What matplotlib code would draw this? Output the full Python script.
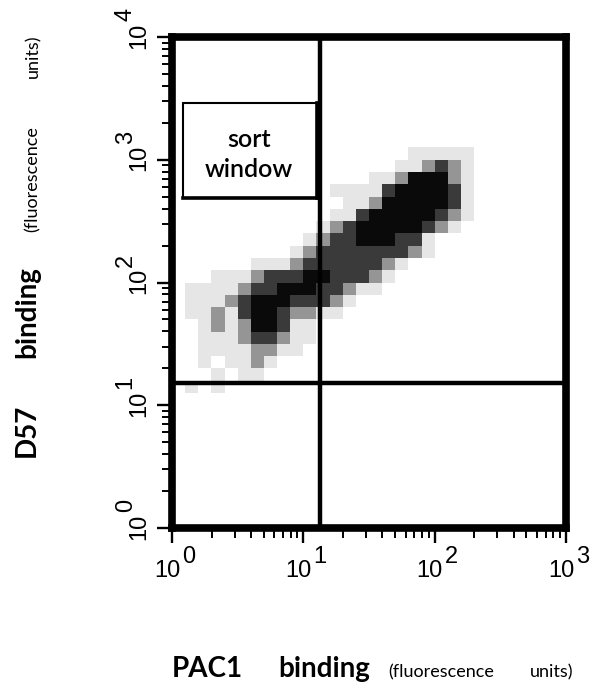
import numpy as np
import matplotlib
matplotlib.use("Agg")
import matplotlib.pyplot as plt
from matplotlib.colors import ListedColormap
from matplotlib.patches import Rectangle
from matplotlib.markers import TICKDOWN, TICKLEFT

# density of events per 0.1-decade cell
# columns: log10(PAC1) 0.0 .. 2.3, rows: log10(D57) 3.1 (top) .. 1.1 (bottom)
density_rows = [
    "000000000000000000000000",
    "000000000000000000111110",
    "000000000000000001123210",
    "000000000000000112444210",
    "000000000000111134444310",
    "000000000000011244444310",
    "000000000000113444443210",
    "000000000001234444432100",
    "000000000012334443310000",
    "000000000123333333210000",
    "000000111233333321000000",
    "000111233344333210000000",
    "011112334443321100000000",
    "011123444333210000000000",
    "011213443221100000000000",
    "001212443110000000000000",
    "001112332110000000000000",
    "001111221100000000000000",
    "001011210000000000000000",
    "000101100000000000000000",
    "010100000000000000000000",
]
x_log_edges = [i / 10 for i in range(25)]          # 0.0 .. 2.4
y_log_edges = [1.1 + i / 10 for i in range(22)]    # 1.1 .. 3.2

pac1_gate = 13.5
d57_gate = 15.2
sort_window = (1.21, 12.6, 490, 2900)   # x0, x1, y0, y1

decades_x = [0, 1, 2, 3]
decades_y = [0, 1, 2, 3, 4]

dens = np.array([[int(c) for c in r] for r in density_rows])[::-1]
xe = 10 ** np.array(x_log_edges)
ye = 10 ** np.array(y_log_edges)

W, H = 592, 683
fig = plt.figure(figsize=(W / 100, H / 100), dpi=100)
ax = fig.add_axes([172 / W, 1 - 528 / H, (566 - 172) / W, (528 - 37) / H])

cmap = ListedColormap(["white", "#e6e6e6", "#959595", "#3a3a3a", "#0a0a0a"])
ax.pcolormesh(xe, ye, dens, cmap=cmap, vmin=-0.5, vmax=4.5, zorder=1)

ax.set_xscale("log")
ax.set_yscale("log")
ax.set_xlim(1, 1000)
ax.set_ylim(1, 10000)
ax.set_xticks([])
ax.set_yticks([])
ax.minorticks_off()

for s in ax.spines.values():
    s.set_linewidth(5.5)
    s.set_color("black")

# log tick marks along the bottom and left edges
major_x = [10 ** d for d in decades_x]
major_y = [10 ** d for d in decades_y]
minor_x = [m * 10 ** d for d in decades_x[:-1] for m in range(2, 10)]
minor_y = [m * 10 ** d for d in decades_y[:-1] for m in range(2, 10)]
bx = ax.get_xaxis_transform()
by = ax.get_yaxis_transform()
ax.plot(major_x, [0] * len(major_x), transform=bx, ls="none", marker=TICKDOWN,
        ms=10.5, mew=1.7, color="black", clip_on=False, zorder=6)
ax.plot(minor_x, [0] * len(minor_x), transform=bx, ls="none", marker=TICKDOWN,
        ms=7, mew=1.4, color="black", clip_on=False, zorder=6)
ax.plot([0] * len(major_y), major_y, transform=by, ls="none", marker=TICKLEFT,
        ms=10.5, mew=1.7, color="black", clip_on=False, zorder=6)
ax.plot([0] * len(minor_y), minor_y, transform=by, ls="none", marker=TICKLEFT,
        ms=7, mew=1.4, color="black", clip_on=False, zorder=6)

# quadrant gates
ax.axvline(pac1_gate, color="black", lw=3.2, zorder=3)
ax.axhline(d57_gate, color="black", lw=3.2, zorder=3)

# sort window box
x0, x1, y0, y1 = sort_window
ax.add_patch(Rectangle((x0, y0), x1 - x0, y1 - y0, facecolor="white",
                       edgecolor="black", lw=1.5, zorder=4))
ax.plot([x1, x1], [y0, y1], color="black", lw=2.6, zorder=5)
ax.plot([x0, x1], [y0, y0], color="black", lw=2.6, zorder=5)
fig.text(249 / W, 1 - 147 / H, "sort", ha="center", va="baseline",
         family="Lato", fontweight="semibold", fontsize=18)
fig.text(249 / W, 1 - 177 / H, "window", ha="center", va="baseline",
         family="Lato", fontweight="semibold", fontsize=18)

# tick labels 10^n with full-size exponents
tf = dict(family="Liberation Sans", fontsize=17)
for d in decades_x:
    ax.annotate("10", xy=(10 ** d, 0), xycoords=("data", "axes fraction"),
                xytext=(6, -35.5), textcoords="offset points",
                ha="right", va="baseline", annotation_clip=False, **tf)
    ax.annotate(str(d), xy=(10 ** d, 0), xycoords=("data", "axes fraction"),
                xytext=(7.5, -25.5), textcoords="offset points",
                ha="left", va="baseline", annotation_clip=False, **tf)
for d in decades_y:
    ax.annotate("10", xy=(0, 10 ** d), xycoords=("axes fraction", "data"),
                xytext=(-19.5, 10.5), textcoords="offset points",
                ha="right", va="baseline", rotation=90,
                rotation_mode="anchor", annotation_clip=False, **tf)
    ax.annotate(str(d), xy=(0, 10 ** d), xycoords=("axes fraction", "data"),
                xytext=(-29, 11.5), textcoords="offset points",
                ha="left", va="baseline", rotation=90,
                rotation_mode="anchor", annotation_clip=False, **tf)

# axis titles
big = dict(family="Lato", fontweight="bold", fontsize=20)
small = dict(family="Lato", fontsize=13)
for word, px in [("PAC1", 172), ("binding", 278)]:
    fig.text(px / W, 1 - 677 / H, word, ha="left", va="baseline", **big)
for word, px in [("(fluorescence", 388), ("units)", 530)]:
    fig.text(px / W, 1 - 677 / H, word, ha="left", va="baseline", **small)
for word, py in [("D57", 457), ("binding", 358)]:
    fig.text(35 / W, 1 - py / H, word, ha="left", va="baseline",
             rotation=90, rotation_mode="anchor", **big)
for word, py in [("(fluorescence", 232), ("units)", 78)]:
    fig.text(38 / W, 1 - py / H, word, ha="left", va="baseline",
             rotation=90, rotation_mode="anchor", **small)

fig.savefig("out.png", dpi=100)
